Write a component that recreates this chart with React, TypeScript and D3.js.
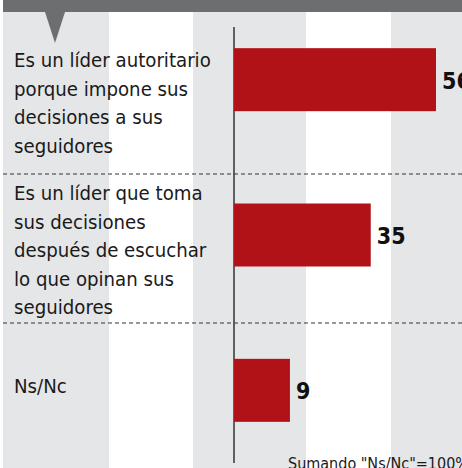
import React from "react";
import * as d3 from "d3";

const categories = [
  ["Es un líder autoritario", "porque impone sus", "decisiones a sus", "seguidores"],
  ["Es un líder que toma", "sus decisiones", "después de escuchar", "lo que opinan sus", "seguidores"],
  ["Ns/Nc"],
];
const values = [56, 35, 9];
const footnote = 'Sumando "Ns/Nc"=100%';

const W = 462;
const H = 468;
const FONT = "'Liberation Sans Narrow', 'DejaVu Sans Condensed', 'Noto Sans', sans-serif";

export default function App() {
  const x = d3.scaleLinear().domain([-9, 56]).range([234, 436]);
  const y = d3.scaleBand<number>().domain(values.map((_, i) => i)).range([2, 468]);
  const barH = 63;
  const stripes = [
    [3, 109],
    [193, 306],
    [391, 462],
  ];
  const labelTop = [67, 200, 393];
  const lineH = 28.5;
  const separators = [174, 323];

  return (
    <svg width={W} height={H} style={{ display: "block", position: "absolute", left: 0, top: 0 }}>
      <rect x={0} y={0} width={W} height={H} fill="#fff" />
      {stripes.map(([a, b], i) => (
        <rect key={i} x={a} y={0} width={b - a} height={H} fill="#e5e6e8" />
      ))}
      <rect x={3} y={0} width={W - 3} height={12} fill="#6d6e70" />
      <path d="M45,12 L65,12 L55,43 Z" fill="#6d6e70" />
      {separators.map((s, i) => (
        <line key={i} x1={3} x2={W} y1={s} y2={s} stroke="#333" strokeWidth={1} strokeDasharray="4,3" />
      ))}
      <line x1={234} x2={234} y1={27} y2={463} stroke="#333" strokeWidth={1.5} />
      {values.map((v, i) => {
        const cy = (y(i) as number) + y.bandwidth() / 2;
        return (
          <g key={i}>
            <rect x={x(-9)} y={cy - barH / 2} width={x(v) - x(-9)} height={barH} fill="#b01218" />
            <text
              x={x(v) + 6}
              y={cy + 9}
              fontFamily={FONT}
              fontWeight="bold"
              fontSize={23}
              fill="#111"
            >
              {v}
            </text>
          </g>
        );
      })}
      {categories.map((lines, i) => (
        <text key={i} fontFamily={FONT} fontSize={20.2} fill="#1a1a1a">
          {lines.map((l, j) => (
            <tspan key={j} x={14} y={labelTop[i] + j * lineH}>
              {l}
            </tspan>
          ))}
        </text>
      ))}
      <text x={288} y={469} fontFamily={FONT} fontSize={16} fill="#1a1a1a">
        {footnote}
      </text>
    </svg>
  );
}
